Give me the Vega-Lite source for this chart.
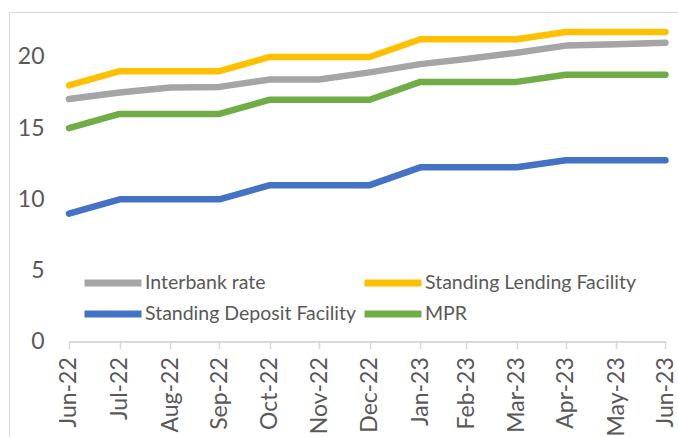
{
  "$schema": "https://vega.github.io/schema/vega-lite/v6.json",
  "width": 669,
  "height": 425,
  "autosize": {"type": "none"},
  "padding": {"left": 9, "top": 12, "right": 0, "bottom": 0},
  "background": "white",
  "config": {
    "view": {"stroke": "#D9D9D9", "strokeWidth": 1},
    "axis": {"grid": false},
    "font": "Lato"
  },
  "data": {
    "values": [
      {"date": "2022-06-30", "series": "Interbank rate", "value": 17.05},
      {"date": "2022-07-31", "series": "Interbank rate", "value": 17.5},
      {"date": "2022-08-31", "series": "Interbank rate", "value": 17.85},
      {"date": "2022-09-30", "series": "Interbank rate", "value": 17.9},
      {"date": "2022-10-31", "series": "Interbank rate", "value": 18.42},
      {"date": "2022-11-30", "series": "Interbank rate", "value": 18.42},
      {"date": "2022-12-31", "series": "Interbank rate", "value": 18.92},
      {"date": "2023-01-31", "series": "Interbank rate", "value": 19.5},
      {"date": "2023-02-28", "series": "Interbank rate", "value": 19.86},
      {"date": "2023-03-31", "series": "Interbank rate", "value": 20.3},
      {"date": "2023-04-30", "series": "Interbank rate", "value": 20.8},
      {"date": "2023-05-31", "series": "Interbank rate", "value": 20.9},
      {"date": "2023-06-30", "series": "Interbank rate", "value": 21.0},
      {"date": "2022-06-30", "series": "Standing Lending Facility", "value": 18},
      {"date": "2022-07-31", "series": "Standing Lending Facility", "value": 19},
      {"date": "2022-08-31", "series": "Standing Lending Facility", "value": 19},
      {"date": "2022-09-30", "series": "Standing Lending Facility", "value": 19},
      {"date": "2022-10-31", "series": "Standing Lending Facility", "value": 20},
      {"date": "2022-11-30", "series": "Standing Lending Facility", "value": 20},
      {"date": "2022-12-31", "series": "Standing Lending Facility", "value": 20},
      {"date": "2023-01-31", "series": "Standing Lending Facility", "value": 21.25},
      {"date": "2023-02-28", "series": "Standing Lending Facility", "value": 21.25},
      {"date": "2023-03-31", "series": "Standing Lending Facility", "value": 21.25},
      {"date": "2023-04-30", "series": "Standing Lending Facility", "value": 21.75},
      {"date": "2023-05-31", "series": "Standing Lending Facility", "value": 21.75},
      {"date": "2023-06-30", "series": "Standing Lending Facility", "value": 21.75},
      {"date": "2022-06-30", "series": "Standing Deposit Facility", "value": 9},
      {"date": "2022-07-31", "series": "Standing Deposit Facility", "value": 10},
      {"date": "2022-08-31", "series": "Standing Deposit Facility", "value": 10},
      {"date": "2022-09-30", "series": "Standing Deposit Facility", "value": 10},
      {"date": "2022-10-31", "series": "Standing Deposit Facility", "value": 11},
      {"date": "2022-11-30", "series": "Standing Deposit Facility", "value": 11},
      {"date": "2022-12-31", "series": "Standing Deposit Facility", "value": 11},
      {"date": "2023-01-31", "series": "Standing Deposit Facility", "value": 12.25},
      {"date": "2023-02-28", "series": "Standing Deposit Facility", "value": 12.25},
      {"date": "2023-03-31", "series": "Standing Deposit Facility", "value": 12.25},
      {"date": "2023-04-30", "series": "Standing Deposit Facility", "value": 12.75},
      {"date": "2023-05-31", "series": "Standing Deposit Facility", "value": 12.75},
      {"date": "2023-06-30", "series": "Standing Deposit Facility", "value": 12.75},
      {"date": "2022-06-30", "series": "MPR", "value": 15},
      {"date": "2022-07-31", "series": "MPR", "value": 16},
      {"date": "2022-08-31", "series": "MPR", "value": 16},
      {"date": "2022-09-30", "series": "MPR", "value": 16},
      {"date": "2022-10-31", "series": "MPR", "value": 17},
      {"date": "2022-11-30", "series": "MPR", "value": 17},
      {"date": "2022-12-31", "series": "MPR", "value": 17},
      {"date": "2023-01-31", "series": "MPR", "value": 18.25},
      {"date": "2023-02-28", "series": "MPR", "value": 18.25},
      {"date": "2023-03-31", "series": "MPR", "value": 18.25},
      {"date": "2023-04-30", "series": "MPR", "value": 18.75},
      {"date": "2023-05-31", "series": "MPR", "value": 18.75},
      {"date": "2023-06-30", "series": "MPR", "value": 18.75}
    ]
  },
  "layer": [
    {
      "mark": {"type": "line", "strokeWidth": 6.5, "strokeCap": "round", "strokeJoin": "round"},
      "encoding": {
        "x": {
          "field": "date",
          "type": "temporal",
          "timeUnit": "utcyearmonthdate",
          "scale": {
            "domain": [
              {"year": 2022, "month": 5, "date": 24, "hours": 7, "utc": true},
              {"year": 2023, "month": 7, "date": 7, "hours": 16, "utc": true}
            ],
            "nice": false
          },
          "axis": {
            "values": [
              {"year": 2022, "month": 6, "date": 30, "utc": true},
              {"year": 2022, "month": 7, "date": 31, "utc": true},
              {"year": 2022, "month": 8, "date": 31, "utc": true},
              {"year": 2022, "month": 9, "date": 30, "utc": true},
              {"year": 2022, "month": 10, "date": 31, "utc": true},
              {"year": 2022, "month": 11, "date": 30, "utc": true},
              {"year": 2022, "month": 12, "date": 31, "utc": true},
              {"year": 2023, "month": 1, "date": 31, "utc": true},
              {"year": 2023, "month": 2, "date": 28, "utc": true},
              {"year": 2023, "month": 3, "date": 31, "utc": true},
              {"year": 2023, "month": 4, "date": 30, "utc": true},
              {"year": 2023, "month": 5, "date": 31, "utc": true},
              {"year": 2023, "month": 6, "date": 30, "utc": true}
            ],
            "format": "%b-%y",
            "title": null,
            "domain": false,
            "grid": false,
            "ticks": true,
            "tickSize": 7,
            "tickColor": "#D9D9D9",
            "tickWidth": 1.5,
            "labelAngle": -90,
            "labelPadding": 8,
            "labelFont": "Lato",
            "labelFontSize": 23,
            "labelColor": "#595959",
            "labelOverlap": false,
            "labelFlush": false,
            "offset": -95.3
          }
        },
        "y": {
          "field": "value",
          "type": "quantitative",
          "scale": {"domain": [-6.69, 23.16], "nice": false, "zero": false},
          "axis": {
            "values": [0, 5, 10, 15, 20],
            "title": null,
            "domain": false,
            "ticks": false,
            "tickSize": 0,
            "grid": false,
            "offset": -37,
            "labelPadding": 2,
            "labelFont": "Lato",
            "labelFontSize": 23,
            "labelColor": "#595959"
          }
        },
        "color": {
          "field": "series",
          "type": "nominal",
          "scale": {
            "domain": ["Interbank rate", "Standing Lending Facility", "Standing Deposit Facility", "MPR"],
            "range": ["#A5A5A5", "#FFC000", "#4472C4", "#70AD47"]
          },
          "legend": {
            "orient": "none",
            "direction": "horizontal",
            "legendX": 91,
            "legendY": 258,
            "columns": 2,
            "title": null,
            "symbolType": "M-3,0H3",
            "symbolSize": 361,
            "symbolStrokeWidth": 7,
            "labelFont": "Lato",
            "labelFontSize": 19.5,
            "labelColor": "#595959",
            "labelOffset": 19,
            "labelLimit": 400,
            "columnPadding": -7,
            "rowPadding": 3
          }
        }
      }
    },
    {
      "mark": {"type": "rule", "color": "#D9D9D9", "strokeWidth": 1.5},
      "encoding": {
        "x": {"datum": {"year": 2022, "month": 6, "date": 30, "utc": true}, "type": "temporal"},
        "x2": {"datum": {"year": 2023, "month": 6, "date": 30, "utc": true}},
        "y": {"datum": 0, "type": "quantitative"}
      }
    }
  ]
}
